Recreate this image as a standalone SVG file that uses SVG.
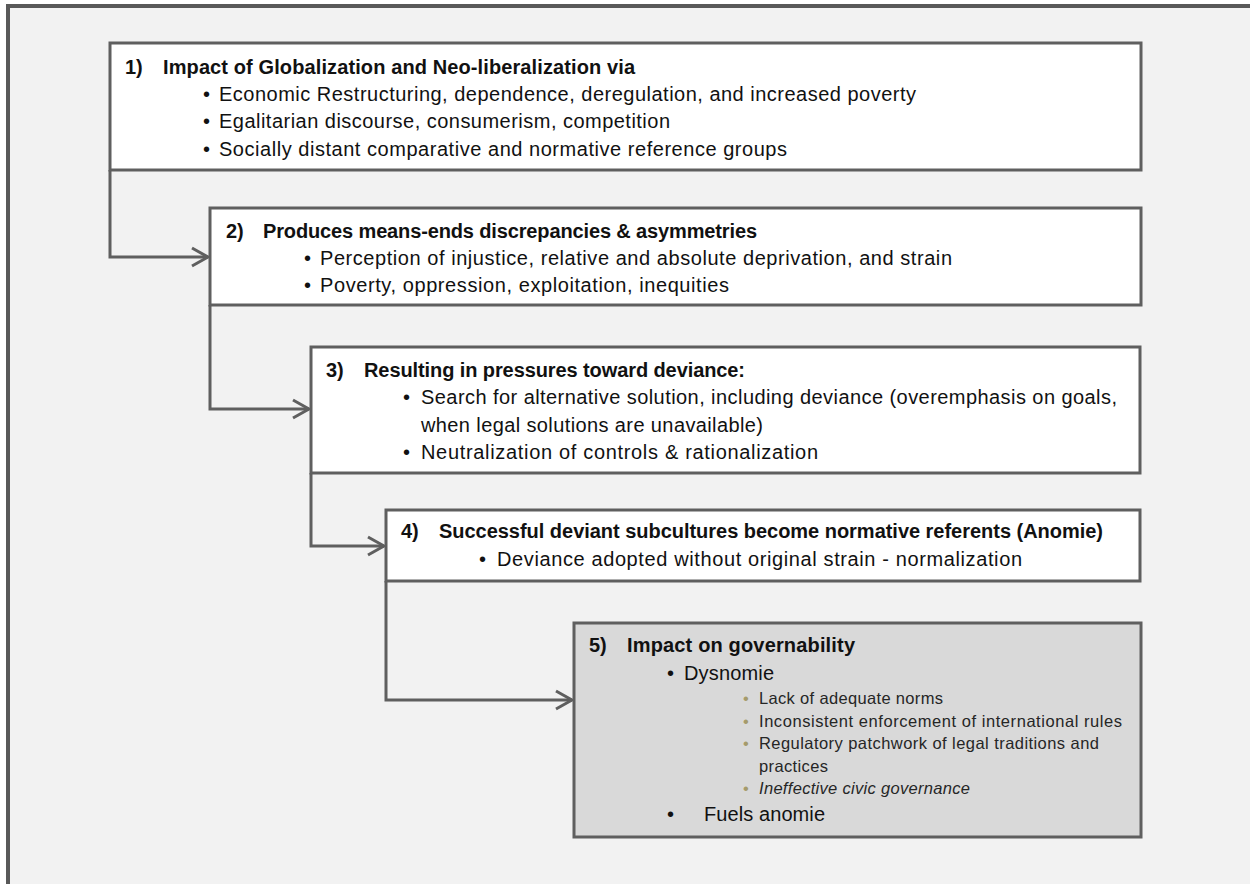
<svg xmlns="http://www.w3.org/2000/svg" width="1250" height="884" viewBox="0 0 1250 884">
<defs>
<style>
.box{fill:#ffffff;stroke:#5f5f5f;stroke-width:3}
.box5{fill:#d9d9d9;stroke:#5f5f5f;stroke-width:3}
.t{font-family:"Liberation Sans",Arial,sans-serif;font-size:20px;fill:#111111}
.b{font-weight:bold}
.s{font-family:"Liberation Sans",Arial,sans-serif;font-size:16.5px;fill:#262626}
.sd{fill:#a59b6b}
.i{font-style:italic}
.conn{fill:none;stroke:#5f5f5f;stroke-width:3}
</style>
<marker id="arr" markerUnits="userSpaceOnUse" viewBox="-3 -3 22 24" markerWidth="22" markerHeight="24" refX="16" refY="9" orient="auto">
<path d="M0,0 L16,9 L0,18" fill="none" stroke="#5f5f5f" stroke-width="3"/>
</marker>
</defs>
<rect x="0" y="0" width="1250" height="884" fill="#ffffff"/>
<rect x="8" y="6" width="1242" height="878" fill="#f2f2f2"/>
<g id="frame">
<line x1="6" y1="6" x2="1250" y2="6" stroke="#595959" stroke-width="4"/>
<line x1="8" y1="4" x2="8" y2="884" stroke="#595959" stroke-width="4"/>
</g>
<g id="connectors">
<path class="conn" d="M110,170 V257 H208" marker-end="url(#arr)"/>
<path class="conn" d="M210,305 V409 H309" marker-end="url(#arr)"/>
<path class="conn" d="M311,473 V546 H384" marker-end="url(#arr)"/>
<path class="conn" d="M386,581 V700 H572" marker-end="url(#arr)"/>
</g>
<g id="node1">
<rect class="box" x="110" y="43" width="1031" height="127"/>
<text class="t b" x="125" y="74">1)</text>
<text class="t b" x="163" y="74" textLength="472">Impact of Globalization and Neo-liberalization via</text>
<text class="t" x="203" y="101">•</text>
<text class="t" x="219" y="101" textLength="697">Economic Restructuring, dependence, deregulation, and increased poverty</text>
<text class="t" x="203" y="128">•</text>
<text class="t" x="219" y="128" textLength="451">Egalitarian discourse, consumerism, competition</text>
<text class="t" x="203" y="156">•</text>
<text class="t" x="219" y="156" textLength="568">Socially distant comparative and normative reference groups</text>
</g>
<g id="node2">
<rect class="box" x="210" y="208" width="931" height="97"/>
<text class="t b" x="226" y="238">2)</text>
<text class="t b" x="263" y="238" textLength="494">Produces means-ends discrepancies &amp; asymmetries</text>
<text class="t" x="304" y="265">•</text>
<text class="t" x="320" y="265" textLength="632">Perception of injustice, relative and absolute deprivation, and strain</text>
<text class="t" x="304" y="292">•</text>
<text class="t" x="320" y="292" textLength="409">Poverty, oppression, exploitation, inequities</text>
</g>
<g id="node3">
<rect class="box" x="311" y="347" width="829" height="126"/>
<text class="t b" x="326" y="377">3)</text>
<text class="t b" x="364" y="377" textLength="381">Resulting in pressures toward deviance:</text>
<text class="t" x="403" y="404">•</text>
<text class="t" x="421" y="404" textLength="696">Search for alternative solution, including deviance (overemphasis on goals,</text>
<text class="t" x="421" y="432" textLength="342">when legal solutions are unavailable)</text>
<text class="t" x="403" y="459">•</text>
<text class="t" x="421" y="459" textLength="397">Neutralization of controls &amp; rationalization</text>
</g>
<g id="node4">
<rect class="box" x="386" y="510" width="754" height="71"/>
<text class="t b" x="401" y="538">4)</text>
<text class="t b" x="439" y="538" textLength="664">Successful deviant subcultures become normative referents (Anomie)</text>
<text class="t" x="479" y="566">•</text>
<text class="t" x="497" y="566" textLength="525">Deviance adopted without original strain - normalization</text>
</g>
<g id="node5">
<rect class="box5" x="574" y="623" width="567" height="214"/>
<text class="t b" x="589" y="652">5)</text>
<text class="t b" x="627" y="652" textLength="228">Impact on governability</text>
<text class="t" x="667" y="680">•</text>
<text class="t" x="684" y="680" textLength="90">Dysnomie</text>
<text class="s sd" x="743" y="704">•</text>
<text class="s" x="759" y="704" textLength="184">Lack of adequate norms</text>
<text class="s sd" x="743" y="727">•</text>
<text class="s" x="759" y="727" textLength="363">Inconsistent enforcement of international rules</text>
<text class="s sd" x="743" y="749">•</text>
<text class="s" x="759" y="749" textLength="340">Regulatory patchwork of legal traditions and</text>
<text class="s" x="759" y="772" textLength="69">practices</text>
<text class="s sd" x="743" y="794">•</text>
<text class="s i" x="759" y="794" textLength="211">Ineffective civic governance</text>
<text class="t" x="667" y="821">•</text>
<text class="t" x="704" y="821" textLength="121">Fuels anomie</text>
</g>
</svg>
